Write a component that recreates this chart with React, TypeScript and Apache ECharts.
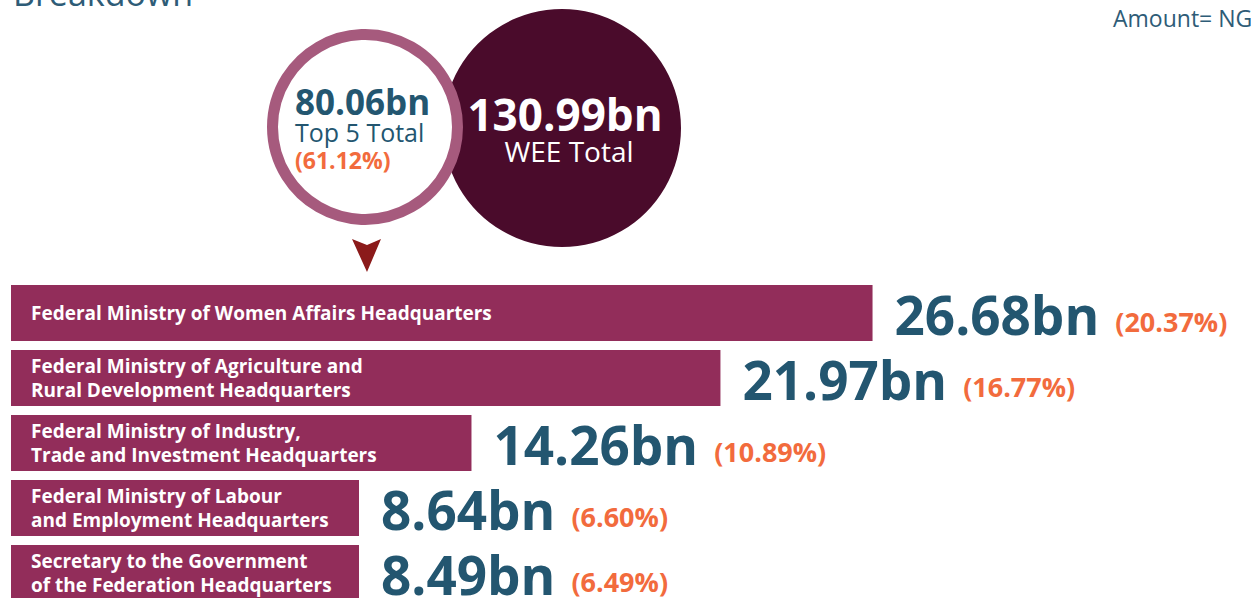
import React, { useEffect, useRef } from "react";
import * as echarts from "echarts";

const categories = [
  "Federal Ministry of Women Affairs Headquarters",
  "Federal Ministry of Agriculture and\nRural Development Headquarters",
  "Federal Ministry of Industry,\nTrade and Investment Headquarters",
  "Federal Ministry of Labour\nand Employment Headquarters",
  "Secretary to the Government\nof the Federation Headquarters",
];
const amounts = [26.68, 21.97, 14.26, 8.64, 8.49];
const shares = [20.37, 16.77, 10.89, 6.6, 6.49];
const top5Total = 80.06;
const top5Share = 61.12;
const weeTotal = 130.99;
const titleText = "Breakdown";
const unitText = "Amount= NGN";

const FONT = "'Open Sans', 'Noto Sans', sans-serif";
const TEAL = "#235670";
const ORANGE = "#F26B3D";
const BAR = "#922D5A";

export default function App() {
  const ref = useRef<HTMLDivElement>(null);
  useEffect(() => {
    if (!ref.current) return;
    const chart = echarts.init(ref.current, null, { renderer: "svg" });
    chart.setOption({
      animation: false,
      backgroundColor: "#ffffff",
      grid: { left: 11, top: 280.5, width: 1240, height: 325, containLabel: false },
      xAxis: { type: "value", min: 0, max: 38.4, show: false },
      yAxis: {
        type: "category",
        inverse: true,
        data: categories,
        z: 5,
        axisLine: { show: false },
        axisTick: { show: false },
        splitLine: { show: false },
        axisLabel: {
          inside: true,
          margin: 20,
          color: "#ffffff",
          fontFamily: FONT,
          fontWeight: 700,
          fontSize: 19,
          lineHeight: 24,
          align: "left",
        },
      },
      series: [
        {
          type: "bar",
          data: amounts,
          barWidth: 56,
          barMinHeight: 348,
          itemStyle: { color: BAR },
          label: {
            show: true,
            position: "right",
            distance: 22,
            offset: [0, 1],
            formatter: (p: any) =>
              `{a|${amounts[p.dataIndex].toFixed(2)}bn}{p|(${shares[p.dataIndex].toFixed(2)}%)}`,
            rich: {
              a: { fontFamily: FONT, fontWeight: 700, fontSize: 53, color: TEAL },
              p: {
                fontFamily: FONT,
                fontWeight: 700,
                fontSize: 27,
                color: ORANGE,
                padding: [0, 0, 6, 16],
                verticalAlign: "bottom",
              },
            },
          },
        },
      ],
      graphic: [
        {
          type: "text",
          left: 13,
          top: -24,
          style: { text: titleText, fontFamily: FONT, fontSize: 34, fill: "#2E5C77" },
        },
        {
          type: "text",
          x: 1113,
          y: 18,
          style: {
            text: unitText,
            fontFamily: FONT,
            fontSize: 23,
            fill: "#2E5C77",
            verticalAlign: "middle",
          },
        },
        {
          type: "circle",
          shape: { cx: 562, cy: 128, r: 119 },
          style: { fill: "#4A0B2B" },
        },
        {
          type: "circle",
          shape: { cx: 365, cy: 127, r: 92.5 },
          style: { fill: "#ffffff", stroke: "#A65A7D", lineWidth: 11 },
        },
        {
          type: "text",
          x: 295,
          y: 101,
          style: {
            text: `${top5Total.toFixed(2)}bn`,
            fontFamily: FONT,
            fontWeight: 700,
            fontSize: 35,
            fill: TEAL,
            verticalAlign: "middle",
          },
        },
        {
          type: "text",
          x: 295,
          y: 132,
          style: {
            text: "Top 5 Total",
            fontFamily: FONT,
            fontSize: 25,
            fill: TEAL,
            verticalAlign: "middle",
          },
        },
        {
          type: "text",
          x: 295,
          y: 160,
          style: {
            text: `(${top5Share.toFixed(2)}%)`,
            fontFamily: FONT,
            fontWeight: 700,
            fontSize: 23,
            fill: ORANGE,
            verticalAlign: "middle",
          },
        },
        {
          type: "text",
          x: 565,
          y: 114,
          style: {
            text: `${weeTotal.toFixed(2)}bn`,
            fontFamily: FONT,
            fontWeight: 700,
            fontSize: 44,
            fill: "#ffffff",
            align: "center",
            verticalAlign: "middle",
          },
        },
        {
          type: "text",
          x: 569,
          y: 151,
          style: {
            text: "WEE Total",
            fontFamily: FONT,
            fontSize: 28,
            fill: "#ffffff",
            align: "center",
            verticalAlign: "middle",
          },
        },
        {
          type: "polygon",
          shape: { points: [[352, 239], [367, 245], [381, 239], [367, 272]] },
          style: { fill: "#8B1A1A" },
        },
      ],
    });
    return () => chart.dispose();
  }, []);
  return (
    <div
      ref={ref}
      style={{ position: "fixed", left: 0, top: 0, width: 1251, height: 620 }}
    />
  );
}
